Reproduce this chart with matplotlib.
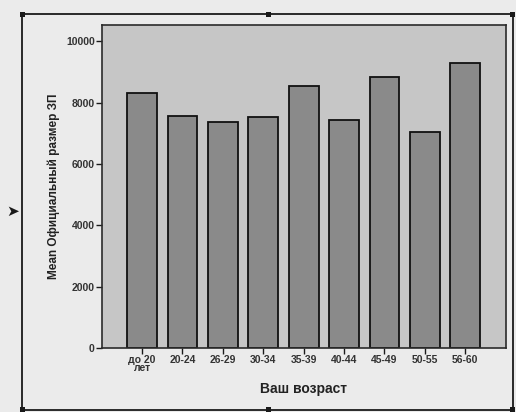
import matplotlib
matplotlib.use("Agg")
import matplotlib.pyplot as plt
from matplotlib.patches import Rectangle

age_groups = ["до 20\nлет", "20-24", "26-29", "30-34", "35-39", "40-44", "45-49", "50-55", "56-60"]
mean_salary = [8310, 7550, 7350, 7535, 8530, 7430, 8820, 7025, 9300]
y_ticks = [0, 2000, 4000, 6000, 8000, 10000]

plt.rcParams['font.family'] = ['Liberation Sans', 'DejaVu Sans']

fig = plt.figure(figsize=(5.16, 4.12), dpi=100)
fig.patch.set_facecolor('#ebebeb')

# outer chart frame (as in the SPSS chart editor)
frame = Rectangle((0.043, 0.006), 0.951, 0.959, transform=fig.transFigure,
                  fill=False, edgecolor='#1a1a1a', linewidth=1.3)
fig.patches.append(frame)
for hx, hy in [(0.043, 0.965), (0.994, 0.965), (0.52, 0.965), (0.043, 0.006), (0.52, 0.006), (0.994, 0.006)]:
    fig.patches.append(Rectangle((hx - 0.005, hy - 0.006), 0.01, 0.012, transform=fig.transFigure,
                                 facecolor='#1a1a1a', edgecolor='none'))
fig.text(0.025, 0.488, "\u27a4", fontsize=11, color='#1a1a1a', ha='center', va='center',
         family=['DejaVu Sans'])

ax = fig.add_axes([0.197, 0.155, 0.783, 0.784])
ax.set_facecolor('#c6c6c6')
x = range(len(age_groups))
ax.bar(x, mean_salary, width=0.74, color='#8a8a8a', edgecolor='#111111', linewidth=1.3)

ax.set_xlim(-1, 9)
ax.set_ylim(0, 10520)
ax.set_yticks(y_ticks)
ax.set_yticklabels([str(v) for v in y_ticks], fontsize=7.5, fontweight='bold', color='#333333')
ax.set_xticks(list(x))
ax.set_xticklabels(age_groups, fontsize=7.5, fontweight='bold', color='#333333', linespacing=0.8)
ax.tick_params(axis='both', direction='out', length=4, width=1, color='#1a1a1a', pad=1)

for side in ['left', 'bottom', 'top', 'right']:
    ax.spines[side].set_color('#2a2a2a')
    ax.spines[side].set_linewidth(1.2)

ax.set_xlabel("Ваш возраст", fontsize=10, fontweight='bold', color='#222222', labelpad=6)
ax.set_ylabel("Mean Официальный размер ЗП", fontsize=8.5, fontweight='bold', color='#222222', labelpad=4)

fig.savefig("out.png", dpi=100, facecolor=fig.get_facecolor())
